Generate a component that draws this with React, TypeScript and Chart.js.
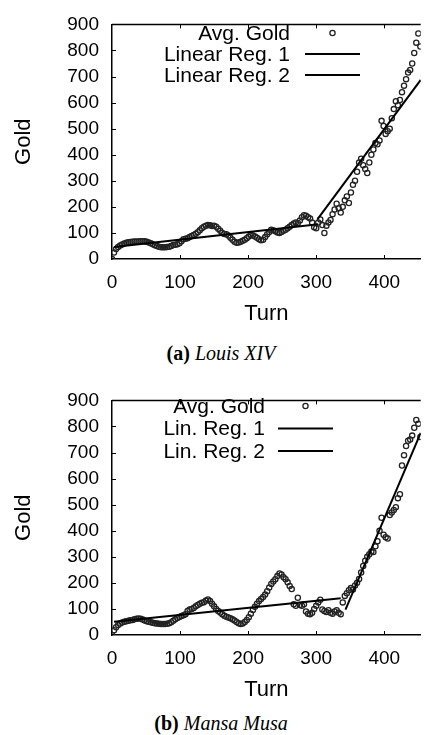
import React, { useEffect, useRef } from "react";
import { Chart, registerables } from "chart.js";

Chart.register(...registerables);

// ---------- data ----------
const TURN_STEP = 3; // one sample every 3 turns, starting at turn 0
const X_MAX = 453.5; // visible part of the turn axis (figure is cropped on the right)
const Y_MAX = 900;
const xTickValues = [0, 100, 200, 300, 400];
const yTickValues = [0, 100, 200, 300, 400, 500, 600, 700, 800, 900];

const louisGold = [
  0, 25, 38, 46, 52, 56, 59, 62, 64, 65,
  66, 67, 67, 67, 68, 68, 68, 66, 63, 60,
  57, 53, 50, 47, 45, 45, 45, 46, 47, 50,
  54, 55, 57, 60, 68, 76, 78, 80, 84, 88,
  92, 97, 103, 110, 118, 124, 128, 130, 129, 127,
  128, 124, 116, 108, 100, 96, 95, 90, 82, 74,
  66, 62, 63, 66, 70, 74, 80, 86, 92, 90,
  86, 82, 76, 72, 74, 84, 95, 104, 112, 110,
  106, 102, 100, 104, 108, 112, 118, 124, 130, 136,
  140, 138, 148, 160, 168, 166, 160, 155, 140, 122,
  118, 140, 152, 130, 100, 128, 140, 150, 172, 190,
  212, 195, 178, 200, 225, 240, 215, 255, 285, 300,
  335, 370, 385, 360, 345, 330, 370, 400, 420, 445,
  440, 455, 530, 510, 480, 490, 500, 540, 575, 605,
  590, 610, 640, 665, 690, 715, 725, 750, 790, 830,
  865, 815,
];
const louisReg1Turns = [3, 303];
const louisReg1Gold = [46, 133];
const louisReg2Turns = [302, 453.5];
const louisReg2Gold = [153, 687];

const musaGold = [
  0, 18, 30, 38, 44, 48, 51, 53, 55, 57,
  58, 60, 62, 63, 62, 59, 56, 53, 51, 49,
  47, 45, 44, 43, 42, 42, 42, 43, 45, 49,
  55, 60, 65, 69, 73, 76, 80, 92, 98, 100,
  104, 110, 115, 120, 124, 126, 132, 136, 130, 120,
  110, 100, 92, 86, 80, 74, 70, 67, 64, 60,
  56, 50, 45, 42, 44, 50, 58, 68, 82, 96,
  108, 120, 130, 138, 146, 155, 168, 182, 196, 205,
  214, 226, 236, 232, 222, 214, 202, 188, 176, 118,
  112, 143, 115, 112, 118, 90, 82, 80, 85, 100,
  112, 125, 135, 98, 92, 88, 95, 85, 82, 90,
  95, 85, 80, 125, 150, 160, 172, 180, 175, 190,
  200, 215, 240, 265, 285, 300, 310, 320, 318, 340,
  360, 400, 450, 385, 375, 370, 460, 470, 480, 490,
  525, 540, 650, 690, 725, 745, 750, 765, 795, 825,
  810, 760,
];
const musaReg1Turns = [3, 336];
const musaReg1Gold = [51, 141];
const musaReg2Turns = [343, 453.5];
const musaReg2Gold = [97, 775];

// ---------- helpers ----------
const SANS = "'Liberation Sans', Arial, Helvetica, sans-serif";

const toPoints = (xs: number[], ys: number[]) => ys.map((y, i) => ({ x: xs[i], y }));
const turnsFor = (vals: number[]) => vals.map((_, i) => i * TURN_STEP);

type LegendCfg = {
  textRight: number;
  sampleLeft: number;
  sampleRight: number;
  rows: number[];
};

const gnuplotFrame = {
  id: "gnuplotFrame",
  afterDraw(chart: any, _args: any, opts: any) {
    const { ctx, chartArea: a, scales } = chart;
    const xs = scales.x;
    const ys = scales.y;
    ctx.save();
    // top border
    ctx.strokeStyle = "#000";
    ctx.lineWidth = 1.5;
    ctx.beginPath();
    ctx.moveTo(a.left, a.top);
    ctx.lineTo(a.right, a.top);
    ctx.stroke();
    // inward ticks (gnuplot style, mirrored on top)
    ctx.lineWidth = 1;
    ctx.beginPath();
    const len = 4;
    ys.ticks.forEach((t: any) => {
      if (t.value <= 0 || t.value >= Y_MAX) return;
      const y = Math.round(ys.getPixelForValue(t.value)) + 0.5;
      ctx.moveTo(a.left, y);
      ctx.lineTo(a.left + len, y);
    });
    xs.ticks.forEach((t: any) => {
      if (t.value <= 0) return;
      const x = Math.round(xs.getPixelForValue(t.value)) + 0.5;
      ctx.moveTo(x, a.bottom);
      ctx.lineTo(x, a.bottom - len);
      ctx.moveTo(x, a.top);
      ctx.lineTo(x, a.top + len);
    });
    ctx.stroke();

    // legend: right-aligned text followed by the sample
    const lg: LegendCfg = opts.legend;
    ctx.font = `21px ${SANS}`;
    ctx.fillStyle = "#000";
    ctx.textAlign = "right";
    ctx.textBaseline = "middle";
    chart.data.datasets.forEach((ds: any, i: number) => {
      const y = lg.rows[i];
      ctx.fillText(ds.label, lg.textRight, y + 1);
      if (ds.showLine) {
        ctx.strokeStyle = "#000";
        ctx.lineWidth = 2;
        ctx.beginPath();
        ctx.moveTo(lg.sampleLeft, y);
        ctx.lineTo(lg.sampleRight, y);
        ctx.stroke();
      } else {
        ctx.strokeStyle = ds.pointBorderColor;
        ctx.lineWidth = ds.pointBorderWidth;
        ctx.beginPath();
        ctx.arc((lg.sampleLeft + lg.sampleRight) / 2, y, ds.pointRadius, 0, Math.PI * 2);
        ctx.stroke();
      }
    });
    ctx.restore();
  },
};

type PanelProps = {
  gold: number[];
  reg1Turns: number[];
  reg1Gold: number[];
  reg2Turns: number[];
  reg2Gold: number[];
  labels: string[];
  legend: LegendCfg;
  top: number;
};

const CANVAS_W = 426;
const CANVAS_H = 330;
const AREA_TOP = 17;
const AREA_BOTTOM = 259;
const AREA_LEFT = 112;

function Panel(p: PanelProps) {
  const ref = useRef<HTMLCanvasElement | null>(null);
  useEffect(() => {
    if (!ref.current) return;
    const chart = new Chart(ref.current, {
      type: "scatter",
      data: {
        datasets: [
          {
            label: p.labels[0],
            data: toPoints(turnsFor(p.gold), p.gold),
            showLine: false,
            pointRadius: 2.6,
            pointBorderWidth: 1.3,
            borderColor: "#222",
            backgroundColor: "rgba(255,255,255,0)",
            pointBackgroundColor: "rgba(255,255,255,0)",
            pointBorderColor: "#222",
            order: 3,
          } as any,
          {
            label: p.labels[1],
            data: toPoints(p.reg1Turns, p.reg1Gold),
            showLine: true,
            borderColor: "#000",
            borderWidth: 2,
            pointRadius: 0,
            order: 1,
          },
          {
            label: p.labels[2],
            data: toPoints(p.reg2Turns, p.reg2Gold),
            showLine: true,
            borderColor: "#000",
            borderWidth: 2,
            pointRadius: 0,
            order: 2,
          },
        ],
      },
      options: {
        responsive: false,
        animation: false,
        devicePixelRatio: 1,
        layout: { padding: { top: AREA_TOP, left: 0, right: 0, bottom: 0 } },
        plugins: {
          legend: { display: false },
          tooltip: { enabled: false },
          gnuplotFrame: { legend: p.legend },
        } as any,
        scales: {
          x: {
            type: "linear",
            min: 0,
            max: X_MAX,
            grid: { display: false, drawTicks: false },
            border: { display: true, color: "#000", width: 1.5 },
            ticks: {
              color: "#000",
              font: { family: SANS, size: 19 },
              padding: 12,
              maxRotation: 0,
              autoSkip: false,
            },
            afterBuildTicks: (s: any) => {
              s.ticks = xTickValues.map((v) => ({ value: v }));
            },
            afterFit: (s: any) => {
              s.height = CANVAS_H - AREA_BOTTOM;
            },
            title: {
              display: true,
              text: "Turn",
              color: "#000",
              font: { family: SANS, size: 22 },
              padding: { top: 0, bottom: 3 },
            },
          },
          y: {
            type: "linear",
            min: 0,
            max: Y_MAX,
            grid: { display: false, drawTicks: false },
            border: { display: true, color: "#000", width: 1.5 },
            ticks: {
              color: "#000",
              font: { family: SANS, size: 19 },
              padding: 13,
              autoSkip: false,
            },
            afterBuildTicks: (s: any) => {
              s.ticks = yTickValues.map((v) => ({ value: v }));
            },
            afterFit: (s: any) => {
              s.width = AREA_LEFT;
            },
            title: {
              display: true,
              text: "Gold",
              color: "#000",
              font: { family: SANS, size: 22 },
              padding: { top: 11, bottom: 0 },
            },
          },
        },
      } as any,
      plugins: [gnuplotFrame],
    });
    return () => chart.destroy();
  }, []);
  return (
    <canvas
      ref={ref}
      width={CANVAS_W}
      height={CANVAS_H}
      style={{ position: "absolute", left: 0, top: p.top, width: CANVAS_W, height: CANVAS_H }}
    />
  );
}

const captionStyle = (top: number): React.CSSProperties => ({
  position: "absolute",
  left: 0,
  top,
  width: 442,
  textAlign: "center",
  fontFamily: "'Liberation Serif', 'Times New Roman', serif",
  fontSize: 20,
  lineHeight: "24px",
  color: "#000",
  whiteSpace: "nowrap",
});

export default function App() {
  return (
    <div
      style={{
        position: "absolute",
        left: 0,
        top: 0,
        width: 426,
        height: 735,
        background: "#fff",
        overflow: "hidden",
      }}
    >
      <Panel
        gold={louisGold}
        reg1Turns={louisReg1Turns}
        reg1Gold={louisReg1Gold}
        reg2Turns={louisReg2Turns}
        reg2Gold={louisReg2Gold}
        labels={["Avg. Gold", "Linear Reg. 1", "Linear Reg. 2"]}
        legend={{ textRight: 290, sampleLeft: 305, sampleRight: 360, rows: [33, 54, 75] }}
        top={0}
      />
      <div style={captionStyle(341)}>
        <b>(a)</b> <i>Louis XIV</i>
      </div>
      <Panel
        gold={musaGold}
        reg1Turns={musaReg1Turns}
        reg1Gold={musaReg1Gold}
        reg2Turns={musaReg2Turns}
        reg2Gold={musaReg2Gold}
        labels={["Avg. Gold", "Lin. Reg. 1", "Lin. Reg. 2"]}
        legend={{ textRight: 265, sampleLeft: 278, sampleRight: 333, rows: [30, 52.5, 75] }}
        top={376}
      />
      <div style={captionStyle(711)}>
        <b>(b)</b> <i>Mansa Musa</i>
      </div>
    </div>
  );
}
